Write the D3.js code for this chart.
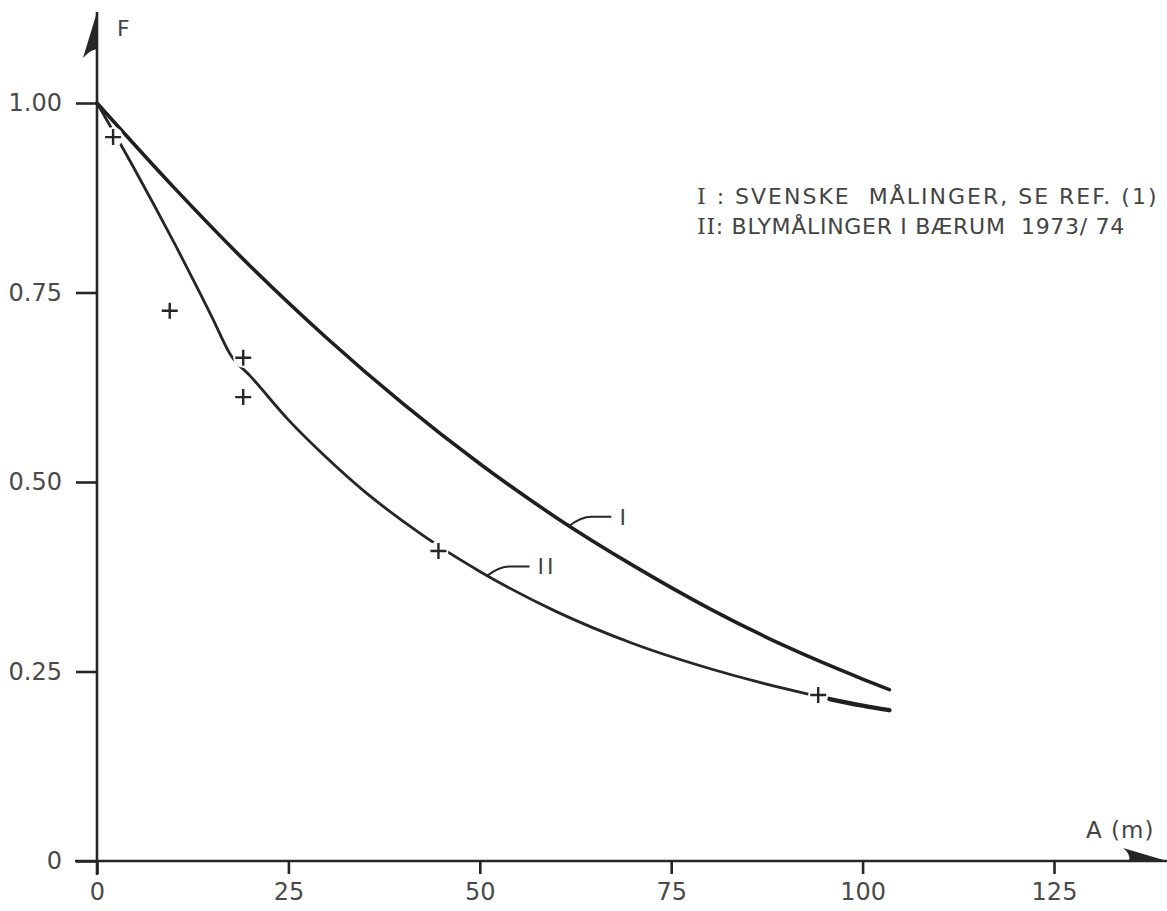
<!DOCTYPE html>
<html>
<head>
<meta charset="utf-8">
<script src="https://cdn.jsdelivr.net/npm/d3@7"></script>
<style>
    body { margin: 0; background: #fff; }
    .chart text { font-family: "DejaVu Sans", sans-serif; fill: #444; }
    .axis text { font-size: 24px; fill: #4a4a4a; }
    .axis line { stroke: #262626; stroke-width: 2.6; }
    .axis path { display: none; }
    .roman { font-family: "DejaVu Serif", serif; }
</style>
</head>
<body>
<script>
//wrap it all in a self-executing function
(function(){

//curve I: swedish measurements
var distI = [0, 10, 20, 30, 40, 50, 60, 70, 80, 90, 100, 103.5];
var factorI = [1.00, 0.889, 0.785, 0.690, 0.603, 0.524, 0.453, 0.390, 0.333, 0.283, 0.240, 0.226];

//curve II: lead measurements, Baerum 1973/74
var distII = [0, 5, 10, 15, 17.5, 20, 25, 30, 35, 40, 45, 50, 60, 70, 80, 90, 100, 103.5];
var factorII = [1.00, 0.911, 0.817, 0.718, 0.667, 0.640, 0.582, 0.532, 0.487, 0.448, 0.413, 0.382, 0.329, 0.287, 0.254, 0.227, 0.205, 0.199];

//measured points (+)
var measDist = [2.1, 9.5, 19.1, 19.1, 44.6, 94.2];
var measF = [0.955, 0.726, 0.664, 0.612, 0.409, 0.219];

//ticks and texts
var xTicks = [0, 25, 50, 75, 100, 125];
var yTicks = [0, 0.25, 0.50, 0.75, 1.00];
var legendNums = ["I", "II"];
var legendTexts = [" : SVENSKE  MÅLINGER, SE REF. (1)", ": BLYMÅLINGER I BÆRUM  1973/ 74"];
var curveNames = ["I", "II"];
var labelAt = [61.7, 51]; //distance where the leader touches the curve

window.onload = setChart();

function setChart(){
    var width = 1167,
        height = 911,
        legendSpacing = [2, 0.7]; //letter spacing of each legend line

    var svg = d3.select("body")
        .append("svg")
        .attr("class", "chart")
        .attr("width", width)
        .attr("height", height);

    var x = d3.scaleLinear().domain([0, 125]).range([97, 1054]);
    var y = d3.scaleLinear().domain([0, 1]).range([861, 103]);

    //axes (ticks only, the lines are drawn below with arrows)
    svg.append("g")
        .attr("class", "axis")
        .attr("transform", "translate(" + x(0) + ",0)")
        .call(d3.axisLeft(y).tickValues(yTicks).tickSize(21).tickPadding(14)
            .tickFormat(function(d){ return d == 0 ? "0" : d.toFixed(2); }));

    svg.append("g")
        .attr("class", "axis")
        .attr("transform", "translate(0," + y(0) + ")")
        .call(d3.axisBottom(x).tickValues(xTicks).tickSize(13).tickPadding(9)
            .tickFormat(d3.format("d")));

    //axis lines
    svg.append("line")
        .attr("x1", x(0)).attr("x2", x(0))
        .attr("y1", y(0) + 14).attr("y2", 12)
        .style("stroke", "#262626").style("stroke-width", 2.6);
    svg.append("line")
        .attr("x1", x(0) - 22).attr("x2", width)
        .attr("y1", y(0)).attr("y2", y(0))
        .style("stroke", "#262626").style("stroke-width", 2.6);

    //half arrow heads
    svg.append("path")
        .attr("d", "M" + x(0) + ",12 L" + (x(0) - 14) + ",58 Q" + (x(0) - 7) + ",50 " + x(0) + ",49 Z")
        .style("fill", "#262626");
    svg.append("path")
        .attr("d", "M" + width + "," + y(0) + " L1123,848 Q1131,854 1129," + y(0) + " Z")
        .style("fill", "#262626");

    svg.append("text").attr("x", 117).attr("y", 36).style("font-size", "22px").text("F");
    svg.append("text").attr("x", 1086).attr("y", 838).style("font-size", "23px")
        .style("letter-spacing", "1px").text("A (m)");

    //curves
    var line = d3.line()
        .x(function(d){ return x(d[0]); })
        .y(function(d){ return y(d[1]); })
        .curve(d3.curveMonotoneX);

    var curveI = d3.zip(distI, factorI),
        curveII = d3.zip(distII, factorII);

    svg.append("path")
        .datum(curveI)
        .attr("d", line)
        .style("fill", "none")
        .style("stroke", "#1f1f1f")
        .style("stroke-width", 3.6)
        .style("stroke-linecap", "round");

    svg.append("path")
        .datum(curveII)
        .attr("d", line)
        .style("fill", "none")
        .style("stroke", "#262626")
        .style("stroke-width", 2.8)
        .style("stroke-linecap", "round");

    //last piece of curve II is drawn heavier
    svg.append("clipPath")
        .attr("id", "tail")
        .append("rect")
        .attr("x", x(95.5)).attr("y", 0)
        .attr("width", width).attr("height", height);
    svg.append("path")
        .datum(curveII)
        .attr("d", line)
        .attr("clip-path", "url(#tail)")
        .style("fill", "none")
        .style("stroke", "#1f1f1f")
        .style("stroke-width", 4.4)
        .style("stroke-linecap", "round");

    //measured points, white gap behind each cross
    var pts = svg.selectAll(".meas")
        .data(d3.zip(measDist, measF))
        .enter()
        .append("g")
        .attr("class", "meas")
        .attr("transform", function(d){ return "translate(" + x(d[0]) + "," + y(d[1]) + ")"; });
    pts.append("circle").attr("r", 10).style("fill", "#fff");
    pts.append("path")
        .attr("d", "M-8,0 H8 M0,-8 V8")
        .style("stroke", "#262626")
        .style("stroke-width", 2.4);

    //curve labels with leader lines
    var curves = [curveI, curveII];
    curveNames.forEach(function(name, i){
        var px = x(labelAt[i]),
            py = y(valueAt(curves[i], labelAt[i]));
        svg.append("path")
            .attr("d", "M" + px + "," + py + " Q" + (px + 12) + "," + (py - 9) + " " + (px + 22) + "," + (py - 9) + " H" + (px + 42))
            .style("fill", "none")
            .style("stroke", "#262626")
            .style("stroke-width", 2);
        svg.append("text")
            .attr("class", "roman")
            .attr("x", px + 50)
            .attr("y", py - 1)
            .style("font-size", "22px")
            .style("letter-spacing", "3px")
            .text(name);
    });

    //legend
    var legend = svg.selectAll(".legend")
        .data(legendTexts)
        .enter()
        .append("text")
        .attr("class", "legend")
        .attr("x", 697)
        .attr("y", function(d, i){ return 204 + i * 30; })
        .style("font-size", "22px")
        .style("letter-spacing", function(d, i){ return legendSpacing[i] + "px"; })
        .style("white-space", "pre");
    legend.append("tspan")
        .attr("class", "roman")
        .text(function(d, i){ return legendNums[i]; });
    legend.append("tspan")
        .text(function(d){ return d; });
};

//read a curve value at a distance (linear between the listed points)
function valueAt(curve, d){
    for (var i = 1; i < curve.length; i++){
        if (d <= curve[i][0]){
            var t = (d - curve[i-1][0]) / (curve[i][0] - curve[i-1][0]);
            return curve[i-1][1] + t * (curve[i][1] - curve[i-1][1]);
        };
    };
    return curve[curve.length - 1][1];
};

})();
</script>
</body>
</html>
